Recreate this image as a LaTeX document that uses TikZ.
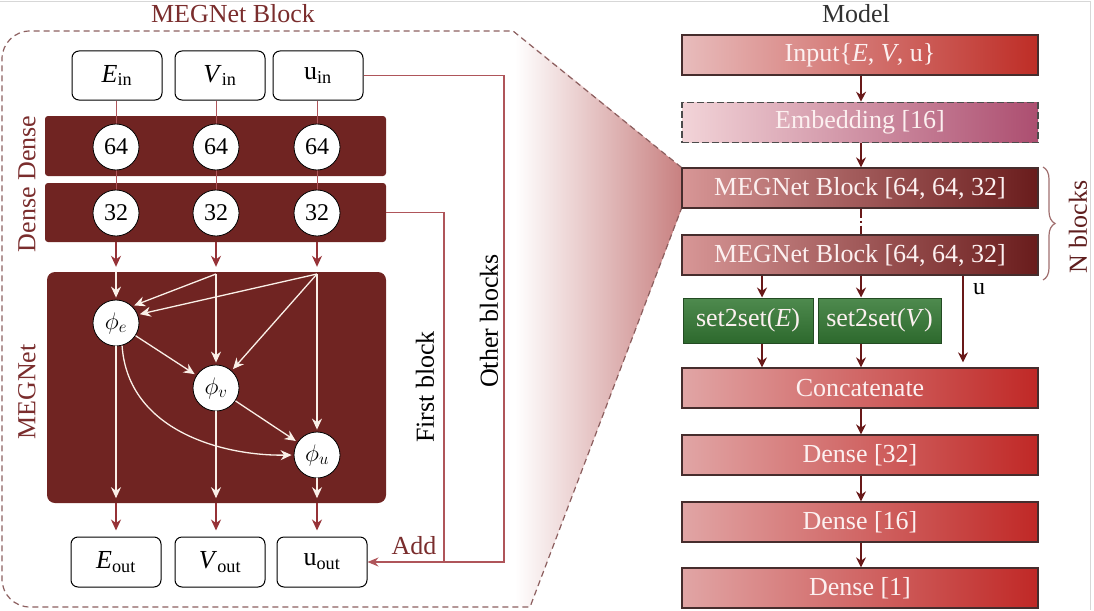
\documentclass[tikz,border=0pt]{standalone}
\usepackage{fix-cm}
\usepackage{fontspec}
\setmainfont{Liberation Serif}
\usetikzlibrary{arrows.meta,decorations.pathreplacing,calc}
\newcommand{\bigfs}{\fontsize{26}{28}\selectfont}
\newcommand{\midfs}{\fontsize{24}{26}\selectfont}
\definecolor{maroon}{RGB}{112,36,34}
\definecolor{arrred}{RGB}{150,50,55}
\definecolor{titlered}{RGB}{122,45,45}
\definecolor{cream}{RGB}{250,240,232}
\definecolor{darkarr}{RGB}{105,25,25}
\definecolor{outl}{RGB}{140,95,95}
\definecolor{fbred}{RGB}{175,85,90}
\definecolor{boxborder}{RGB}{70,45,45}
\definecolor{boxtext}{RGB}{252,240,240}
\definecolor{zoompink}{RGB}{200,128,128}
\definecolor{framegray}{RGB}{215,215,215}
\definecolor{modelgray}{RGB}{50,50,50}
\definecolor{nblk}{RGB}{95,30,30}
\definecolor{bracec}{RGB}{160,110,110}
\definecolor{inpL}{RGB}{232,188,188}\definecolor{inpM}{RGB}{205,95,95}\definecolor{inpR}{RGB}{190,45,38}
\definecolor{embL}{RGB}{242,212,216}\definecolor{embM}{RGB}{212,148,162}\definecolor{embR}{RGB}{172,78,112}
\definecolor{mbL}{RGB}{215,150,150}\definecolor{mbM}{RGB}{165,70,70}\definecolor{mbR}{RGB}{105,28,28}
\definecolor{dnL}{RGB}{225,165,165}\definecolor{dnM}{RGB}{200,85,85}\definecolor{dnR}{RGB}{192,40,38}
\definecolor{grT}{RGB}{78,138,78}\definecolor{grB}{RGB}{45,105,45}\definecolor{grD}{RGB}{35,75,35}
\tikzset{
  inbox/.style={draw=black, line width=1pt, rounded corners=7pt, fill=white, minimum width=90pt, minimum height=49pt, inner sep=0pt, font=\bigfs},
  band/.style={fill=maroon, rounded corners=3pt, minimum width=341pt, inner sep=0pt},
  neur/.style={circle, draw=black, line width=0.8pt, fill=white, minimum size=46pt, inner sep=0pt, font=\midfs},
  redarr/.style={draw=arrred, line width=1.4pt, -{Stealth[length=11pt,width=10pt]}},
  thinln/.style={draw=fbred, line width=0.9pt},
  warr/.style={draw=cream, line width=1.3pt, -{Stealth[length=11pt,width=10pt]}, shorten >=2pt},
  fbline/.style={draw=fbred, line width=1.2pt},
  rbox/.style={draw=boxborder, line width=1.3pt, minimum width=356pt, minimum height=40pt, inner sep=0pt, text=boxtext, font=\bigfs},
  darr/.style={draw=darkarr, line width=1.3pt, -{Stealth[length=10pt,width=10pt]}},
  lbl/.style={font=\bigfs, inner sep=0pt},
  inpshade/.style={left color=inpL, middle color=inpM, right color=inpR},
  embshade/.style={left color=embL, middle color=embM, right color=embR},
  mbshade/.style={left color=mbL, middle color=mbM, right color=mbR},
  dnshade/.style={left color=dnL, middle color=dnM, right color=dnR},
  grbox/.style={draw=grD, line width=1pt, top color=grT, bottom color=grB, minimum height=45pt, inner sep=0pt, text=boxtext, font=\bigfs},
  outline/.style={draw=outl, line width=1.2pt, dash pattern=on 6pt off 4pt},
}
\begin{document}
\begin{tikzpicture}[x=1pt,y=-1pt]
\useasboundingbox (0,0) rectangle (1094,610);
\draw[framegray, line width=1pt] (0,1.5) -- (1090.5,1.5) -- (1090.5,610);
% zoom shading
\shade[left color=white, right color=zoompink] (515,31) -- (682,168) -- (682,208) -- (530,607) -- (515,607) -- cycle;

% ---------- left: MEGNet block ----------
\node[lbl, text=titlered] (t1) at (233,14) {MEGNet Block};
\node[band, minimum height=60pt] (d1) at (215.5,146) {};
\node[band, minimum height=59pt] (d2) at (215.5,212.5) {};
\node[lbl, text=titlered, rotate=90] (dd) at (27,184) {Dense Dense};

\node[inbox] (ein) at (117,75.5) {\textit{E}\textsubscript{in}};
\node[inbox] (vin) at (220,75.5) {\textit{V}\textsubscript{in}};
\node[inbox] (uin) at (318,75.5) {u\textsubscript{in}};

\node[fill=maroon, rounded corners=8pt, minimum width=339pt, minimum height=231pt, inner sep=0pt] (mg) at (216.5,387.5) {};
\node[lbl, text=titlered, rotate=90] (mgl) at (27,392) {MEGNet};

\draw[thinln] (ein.south -| 116,0) -- (116,147) coordinate (ca1);
\draw[thinln] (vin.south -| 216,0) -- (216,147) coordinate (ca2);
\draw[thinln] (uin.south -| 317,0) -- (317,147) coordinate (ca3);
\draw[thinln] (ca1) -- (116,213);
\draw[thinln] (ca2) -- (216,213);
\draw[thinln] (ca3) -- (317,213);

\node[neur] (a1) at (116,147) {64};
\node[neur] (a2) at (216,147) {64};
\node[neur] (a3) at (317,147) {64};
\node[neur] (b1) at (116,213) {32};
\node[neur] (b2) at (216,213) {32};
\node[neur] (b3) at (317,213) {32};

\draw[redarr, shorten >=5pt] (b1 |- d2.south) -- (b1 |- mg.north);
\draw[redarr, shorten >=5pt] (b2 |- d2.south) -- (b2 |- mg.north);
\draw[redarr, shorten >=5pt] (b3 |- d2.south) -- (b3 |- mg.north);

\node[neur] (pe) at (116,323) {$\phi_e$};
\node[neur] (pv) at (216,388) {$\phi_v$};
\node[neur] (pu) at (317,455) {$\phi_u$};

\coordinate (sV) at (216,274);
\coordinate (sU) at (317,274);
\draw[warr] (pe |- mg.north) -- (pe);
\draw[warr] (sV) -- (pe.46);
\draw[warr] (sU) -- (pe.21);
\draw[warr] (sV) -- (pv);
\draw[warr] (sU) -- (pv.48);
\draw[warr] (sU) -- (pu);
\draw[warr] (pe) -- (pv);
\draw[warr] (pv) -- (pu);
\draw[warr] (pe.-75) .. controls (128,432) and (225,456) .. (pu.west);
\draw[warr, shorten >=5pt] (pe) -- (pe |- mg.south);
\draw[warr, shorten >=5pt] (pv) -- (pv |- mg.south);
\draw[warr, shorten >=5pt] (pu) -- (pu |- mg.south);

\node[inbox, minimum height=50pt] (eout) at (116,562) {\textit{E}\textsubscript{out}};
\node[inbox, minimum height=50pt] (vout) at (220,562) {\textit{V}\textsubscript{out}};
\node[inbox, minimum height=50pt] (uout) at (322,562) {u\textsubscript{out}};

\draw[redarr, shorten >=6pt] (pe |- mg.south) -- (pe |- eout.north);
\draw[redarr, shorten >=6pt] (pv |- mg.south) -- (pv |- vout.north);
\draw[redarr, shorten >=6pt] (pu |- mg.south) -- (pu |- uout.north);

\coordinate (ob) at (504,562);
\coordinate (fb) at (444,562);
\draw[fbline] (uin.east) -| (ob) -- (fb);
\draw[fbline, -{Stealth[length=11pt,width=9pt]}] (d2.east) -| (fb) -- (uout.east);
\node[lbl, text=titlered] (add) at (414,546) {Add};
\node[lbl, rotate=90] (fbl) at (425,387) {First block};
\node[lbl, rotate=90] (obl) at (489,321) {Other blocks};

% ---------- right: model ----------
\node[lbl, text=modelgray] (t2) at (856,14) {Model};
\node[rbox, inpshade] (inp) at (860,55) {Input\{\textit{E}, \textit{V}, u\}};
\node[rbox, embshade, draw=gray!60!black, line width=1.6pt, dash pattern=on 7pt off 3pt] (emb) at (860,122.5) {Embedding [16]};
\node[rbox, mbshade] (mb1) at (860,188) {MEGNet Block [64, 64, 32]};
\node[rbox, mbshade] (mb2) at (860,255) {MEGNet Block [64, 64, 32]};
\node[grbox, minimum width=130pt] (s2e) at (748,320.5) {set2set(\textit{E})};
\node[grbox, minimum width=123pt] (s2v) at (879.5,320.5) {set2set(\textit{V})};
\node[rbox, dnshade] (cat) at (860,388) {Concatenate};
\node[rbox, dnshade] (d32) at (860,455) {Dense [32]};
\node[rbox, dnshade] (d16) at (860,522) {Dense [16]};
\node[rbox, dnshade] (dd1) at (860,588) {Dense [1]};

\coordinate (colE) at (762,0);
\coordinate (colV) at (861,0);
\coordinate (colU) at (963,0);
\draw[darr] (inp.south -| colV) -- (emb.north -| colV);
\draw[darr] (emb.south -| colV) -- (mb1.north -| colV);
\draw[draw=darkarr, line width=1.2pt, dash pattern=on 9pt off 3pt on 2pt off 3pt] (mb1.south -| colV) -- (mb2.north -| colV);
\draw[darr] (mb2.south -| colE) -- (s2e.north -| colE);
\draw[darr] (mb2.south -| colV) -- (s2v.north -| colV);
\draw[darr] (s2e.south -| colE) -- (cat.north -| colE);
\draw[darr] (s2v.south -| colV) -- (cat.north -| colV);
\draw[darr, shorten >=5pt] (mb2.south -| colU) -- (cat.north -| colU);
\node[lbl, font=\midfs] (ul) at (979,289) {u};
\draw[darr] (cat.south -| colV) -- (d32.north -| colV);
\draw[darr] (d32.south -| colV) -- (d16.north -| colV);
\draw[darr] (d16.south -| colV) -- (dd1.north -| colV);

\draw[draw=bracec, line width=1.2pt, decorate, decoration={brace, amplitude=12pt}] (1043,167) -- (1043,280);
\node[lbl, text=nblk, rotate=90] (nb) at (1078,227) {N blocks};

% dashed zoom outline
\draw[outline] (mb1.north west) -- (513,31) -- (30,31) .. controls (14.5,31) and (2,43.5) .. (2,59) -- (2,579) .. controls (2,594.5) and (14.5,607) .. (30,607) -- (530,607) -- (mb1.south west);
\end{tikzpicture}
\end{document}
